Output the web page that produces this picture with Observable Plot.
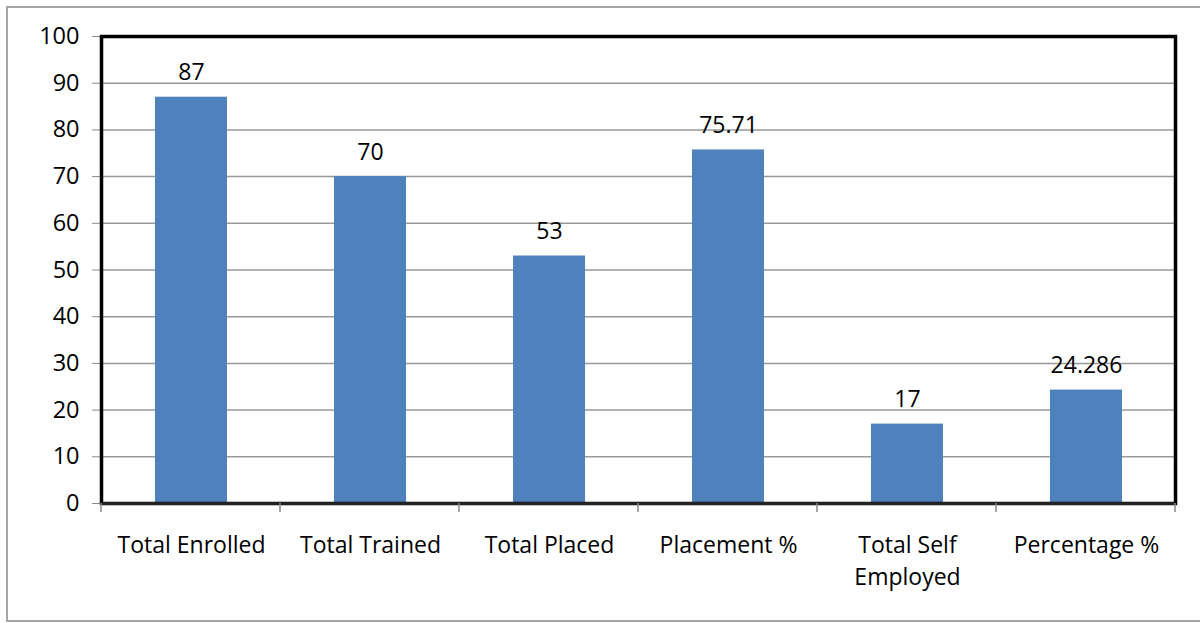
<!DOCTYPE html>
<html><head><meta charset="utf-8">
<script src="https://cdn.jsdelivr.net/npm/d3@7"></script>
<script src="https://cdn.jsdelivr.net/npm/@observablehq/plot@0.6"></script>
<style>
html,body{margin:0;padding:0;background:#fff;}
#wrap{position:relative;width:1200px;height:623px;overflow:hidden;}
#border{position:absolute;left:6px;top:6px;width:1220px;height:616px;border:2px solid #a6a6a6;box-sizing:border-box;}
</style>
</head><body>
<div id="wrap"><div id="border"></div></div>
<script>
const categories = ["Total Enrolled","Total Trained","Total Placed","Placement %","Total Self\nEmployed","Percentage %"];
const values = [87, 70, 53, 75.71, 17, 24.286];
const labels = ["87","70","53","75.71","17","24.286"];
const yTicks = [0,10,20,30,40,50,60,70,80,90,100];

const data = categories.map((c,i)=>({cat:c, v:values[i], label:labels[i]}));

function boundaryTicks(index, scales, values, dims) {
  const g = d3.create("svg:g");
  const y0 = dims.height - dims.marginBottom;
  const n = categories.length;
  for (let i = 0; i <= n; i++) {
    const xx = dims.marginLeft + i * (dims.width - dims.marginLeft - dims.marginRight) / n;
    g.append("line").attr("x1", xx).attr("x2", xx).attr("y1", y0).attr("y2", y0 + 9)
      .attr("stroke", "#888").attr("stroke-width", 1.5);
  }
  return g.node();
}

const chart = Plot.plot({
  width: 1200, height: 623,
  marginLeft: 101, marginRight: 25, marginTop: 36, marginBottom: 120,
  style: {fontFamily: "'Open Sans', sans-serif", fontSize: "23px", background: "transparent", color: "black"},
  x: {domain: categories, paddingInner: 0.6, paddingOuter: 0.3, label: null},
  y: {domain: [0, 100], label: null},
  marks: [
    Plot.gridY(yTicks, {stroke: "#999", strokeOpacity: 1, strokeWidth: 1.5}),
    Plot.barY(data, {x: "cat", y: "v", fill: "#4F81BD"}),
    Plot.text(data, {x: "cat", y: "v", text: "label", dy: -17, lineAnchor: "bottom", fill: "black", fontSize: 23}),
    Plot.axisY(yTicks, {tickSize: 9, tickPadding: 13, stroke: "#888", fill: "black", fontSize: 23.5, tickFormat: d => String(d)}),
    Plot.axisX({tickSize: 0, tickPadding: 26, fontSize: 23, fill: "black", lineHeight: 1.42}),
    Plot.frame({stroke: "black", strokeWidth: 3.5}),
    Plot.ruleY([0], {stroke: "#222", strokeWidth: 3}),
    boundaryTicks
  ]
});
chart.style.position = "absolute";
chart.style.left = "0px";
chart.style.top = "0px";
document.getElementById("wrap").appendChild(chart);
</script>
</body></html>
